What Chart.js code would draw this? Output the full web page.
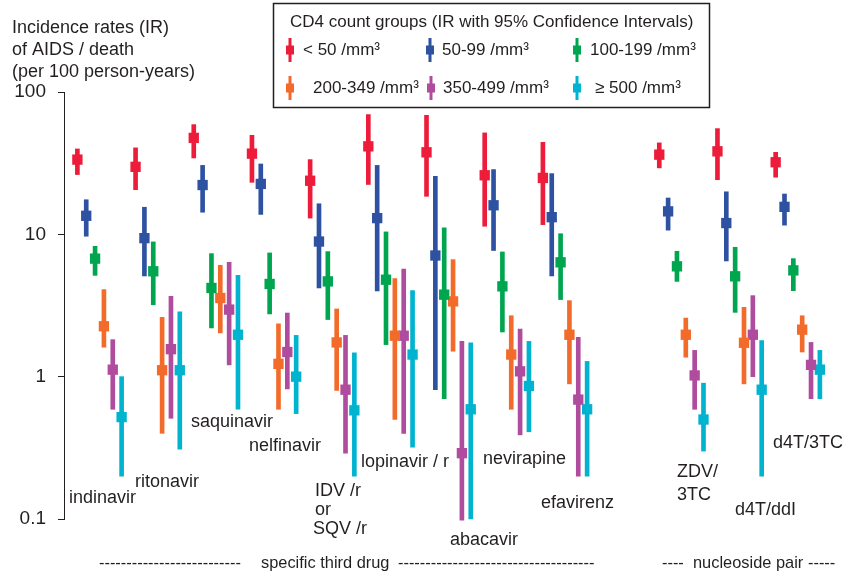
<!DOCTYPE html>
<html lang="en">
<head>
<meta charset="UTF-8">
<title>Incidence rates of AIDS / death by CD4 count group</title>
<script src="https://cdn.jsdelivr.net/npm/chart.js@4.4.1/dist/chart.umd.min.js"></script>
<style>
  html, body { margin: 0; padding: 0; background: #fff; }
  #wrap { width: 845px; height: 573px; position: relative; }
</style>
</head>
<body>
<div id="wrap"><canvas id="myChart"></canvas></div>
<script>
// drugs, and the x slot each one sits on (slot 9 is the gap before the nucleoside pairs)
const drugs = ['indinavir', 'ritonavir', 'saquinavir', 'nelfinavir', 'IDV /r or SQV /r', 'lopinavir / r',
  'abacavir', 'nevirapine', 'efavirenz', 'ZDV/3TC', 'd4T/ddI', 'd4T/3TC'];
const slots = [0, 1, 2, 3, 4, 5, 6, 7, 8, 10, 11, 12];
const cd4Groups = ['< 50 /mm³', '50-99 /mm³', '100-199 /mm³', '200-349 /mm³', '350-499 /mm³', '≥ 500 /mm³'];
const yTicks = [0.1, 1, 10, 100];

// IR (per 100 person-years) with lower / upper 95% CI, one value per drug
const irLt50 = [33.5, 29.8, 47.6, 36.9, 23.8, 41.5, 37.7, 26.0, 24.9, 36.3, 38.3, 32.1];
const loLt50 = [26.3, 20.6, 34.4, 23.2, 13.0, 22.4, 18.5, 11.4, 11.7, 29.3, 24.2, 25.2];
const hiLt50 = [39.8, 40.5, 59.0, 49.6, 33.5, 69.4, 68.6, 51.6, 44.3, 43.9, 55.3, 37.7];

const ir50 = [13.5, 9.4, 22.2, 22.6, 8.9, 13.0, 7.1, 16.0, 13.2, 14.5, 12.0, 15.6];
const lo50 = [9.7, 5.1, 14.3, 13.8, 4.2, 4.0, 0.81, 7.7, 5.1, 10.7, 6.5, 11.6];
const hi50 = [17.5, 15.5, 30.5, 31.2, 16.4, 30.5, 25.6, 28.5, 26.7, 18.0, 19.9, 19.2];

const ir100 = [6.75, 5.5, 4.2, 4.48, 4.67, 4.8, 3.77, 4.31, 6.36, 5.96, 5.07, 5.58];
const lo100 = [5.15, 3.2, 2.2, 2.76, 2.52, 1.68, 0.70, 2.06, 3.48, 4.67, 2.83, 4.02];
const hi100 = [8.24, 8.85, 7.32, 7.4, 7.56, 10.4, 11.1, 7.52, 10.1, 7.6, 8.11, 6.75];

const ir200 = [2.26, 1.11, 3.57, 1.23, 1.74, 1.94, 3.38, 1.43, 1.97, 1.97, 1.73, 2.14];
const lo200 = [1.61, 0.40, 2.03, 0.59, 0.80, 0.50, 1.51, 0.59, 0.89, 1.37, 0.89, 1.49];
const hi200 = [4.09, 2.61, 6.06, 2.35, 2.99, 4.88, 6.64, 2.68, 3.42, 2.58, 3.07, 2.68];

const ir350 = [1.12, 1.56, 2.96, 1.49, 0.81, 1.94, 0.29, 1.09, 0.69, 1.02, 1.97, 1.21];
const lo350 = [0.59, 0.51, 1.21, 0.82, 0.29, 0.40, 0.098, 0.39, 0.20, 0.59, 1.0, 0.70];
const hi350 = [1.82, 3.67, 6.36, 2.8, 1.95, 5.7, 1.77, 2.16, 1.89, 1.53, 3.71, 1.74];

const ir500 = [0.52, 1.11, 1.97, 1.0, 0.58, 1.43, 0.59, 0.86, 0.59, 0.50, 0.81, 1.12];
const lo500 = [0.20, 0.31, 0.59, 0.55, 0.20, 0.32, 0.10, 0.41, 0.20, 0.30, 0.20, 0.70];
const hi500 = [1.0, 2.85, 5.15, 1.95, 1.47, 4.02, 1.73, 1.77, 1.28, 0.90, 1.79, 1.53];

const irAll = [irLt50, ir50, ir100, ir200, ir350, ir500];
const loAll = [loLt50, lo50, lo100, lo200, lo350, lo500];
const hiAll = [hiLt50, hi50, hi100, hi200, hi350, hi500];
const colors = ['#ED1C3A', '#2E52A1', '#00A54F', '#F26B2A', '#B04C9E', '#00B3CF'];

const FONT = '"Liberation Sans", Arial, Helvetica, sans-serif';
const dodge = g => (g - 2.5) * 0.152;

let datasets = [];
cd4Groups.forEach((name, g) => {
  datasets.push({
    type: 'bar',
    label: name + ' CI',
    data: drugs.map((d, i) => ({ x: slots[i] + dodge(g), y: [loAll[g][i], hiAll[g][i]] })),
    backgroundColor: colors[g],
    borderWidth: 0,
    barThickness: 4,
    grouped: false,
    clip: false,
    order: 2
  });
  datasets.push({
    type: 'scatter',
    label: name,
    data: drugs.map((d, i) => ({ x: slots[i] + dodge(g), y: irAll[g][i] })),
    backgroundColor: colors[g],
    pointStyle: 'rect',
    pointRadius: 7.3,
    pointBorderWidth: 0,
    clip: false,
    order: 1
  });
});

// drug names, y-title, legend box and bottom captions
const textPlugin = {
  id: 'texts',
  afterDraw(chart) {
    const ctx = chart.ctx;
    ctx.save();
    ctx.fillStyle = '#231F20';
    ctx.textBaseline = 'middle';
    ctx.textAlign = 'left';

    ctx.font = '18px ' + FONT;
    ['Incidence rates (IR)', 'of AIDS / death', '(per 100 person-years)'].forEach((t, i) => {
      ctx.fillText(t, 12, 28 + i * 22);
    });

    const labels = [
      ['indinavir', 69, 498], ['ritonavir', 135, 482], ['saquinavir', 191, 422], ['nelfinavir', 249, 446],
      ['IDV /r', 315, 491], ['or', 315, 510], ['SQV /r', 313, 529],
      ['lopinavir / r', 361, 462], ['abacavir', 450, 540], ['nevirapine', 483, 459], ['efavirenz', 541, 503],
      ['ZDV/', 677, 472], ['3TC', 677, 495], ['d4T/ddI', 735, 510], ['d4T/3TC', 773, 443]
    ];
    labels.forEach(l => ctx.fillText(l[0], l[1], l[2]));

    // bottom captions with dashes
    ctx.font = '16.4px ' + FONT;
    const dashes = (x0, x1) => {
      const n = Math.round((x1 - x0) / ctx.measureText('-').width);
      ctx.fillText('-'.repeat(n), x0, 563);
    };
    dashes(99, 239);
    ctx.fillText('specific third drug', 261, 563);
    dashes(398, 595);
    dashes(662, 683);
    ctx.fillText('nucleoside pair', 693, 563);
    dashes(808, 835);

    // legend box
    ctx.strokeStyle = '#231F20';
    ctx.lineWidth = 1.5;
    ctx.strokeRect(273.5, 3.5, 436, 104);
    ctx.font = '17px ' + FONT;
    ctx.fillText('CD4 count groups (IR with 95% Confidence Intervals)', 290, 22);
    const items = [[288, 303, 50], [428, 442, 50], [575, 590, 50], [288, 313, 88], [429, 443, 88], [575, 595, 88]];
    items.forEach((it, g) => {
      ctx.fillStyle = colors[g];
      ctx.fillRect(it[0] + 0.5, it[2] - 12, 3, 24);
      ctx.fillRect(it[0] - 2, it[2] - 4.5, 8, 9);
      ctx.fillStyle = '#231F20';
      ctx.fillText(cd4Groups[g], it[1], it[2]);
    });
    ctx.restore();
  }
};

new Chart('myChart', {
  type: 'bar',
  data: { datasets: datasets },
  options: {
    responsive: true,
    maintainAspectRatio: false,
    animation: false,
    layout: { padding: { left: 0, right: 10, top: 92, bottom: 54 } },
    plugins: { legend: { display: false }, tooltip: { enabled: false } },
    scales: {
      x: {
        type: 'linear',
        min: -0.61,
        max: 12.64,
        offset: false,
        display: false
      },
      y: {
        type: 'logarithmic',
        min: 0.1,
        max: 100,
        afterBuildTicks: s => { s.ticks = yTicks.map(v => ({ value: v })); },
        afterFit: s => { s.width = 64; },
        border: { display: true, color: '#231F20', width: 1 },
        grid: { drawOnChartArea: false, drawTicks: true, tickLength: 6, color: '#231F20' },
        ticks: {
          color: '#231F20',
          padding: 12,
          font: { family: FONT, size: 19 },
          callback: v => String(v)
        }
      }
    }
  },
  plugins: [textPlugin]
});
</script>
</body>
</html>
